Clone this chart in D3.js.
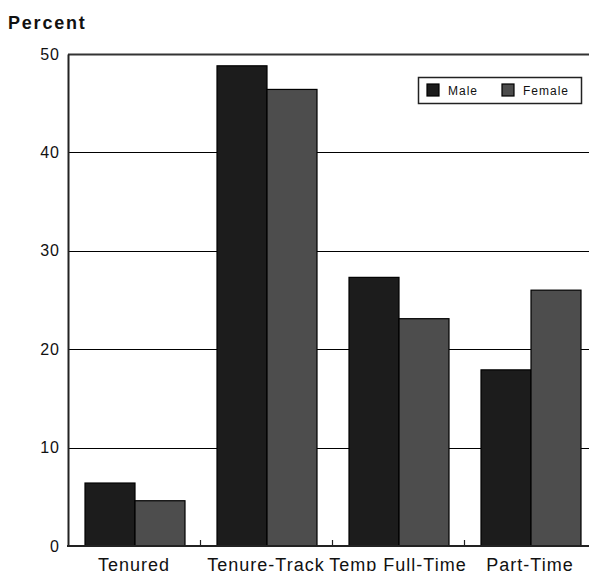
<!DOCTYPE html>
<html><head><meta charset="utf-8">
<script src="https://cdn.jsdelivr.net/npm/d3@7"></script>
<style>body{margin:0;background:#fff;overflow:hidden;} svg{display:block;}</style>
</head><body>
<script>
const categories = ["Tenured", "Tenure-Track", "Temp Full-Time", "Part-Time"];
const seriesNames = ["Male", "Female"];
const maleValues = [6.4, 48.8, 27.3, 17.9];
const femaleValues = [4.6, 46.4, 23.1, 26.0];
const yTicks = [0, 10, 20, 30, 40, 50];
const colors = ["#1c1c1c", "#4d4d4d"];

const W = 589, H = 571;
const svg = d3.select("body").append("svg").attr("width", W).attr("height", H);
const font = "'Liberation Sans', Arial, sans-serif";

const x = d3.scaleBand().domain(categories).range([68, 596]).paddingInner(0).paddingOuter(0);
const xs = d3.scaleBand().domain(seriesNames).range([17, 117]).paddingInner(0).paddingOuter(0);
const y = d3.scaleLinear().domain([0, 50]).range([546, 54]);

// gridlines
svg.append("g").selectAll("line").data(yTicks.filter(d => d > 0)).join("line")
  .attr("x1", 68).attr("x2", W).attr("y1", d => Math.round(y(d)) + 0.5).attr("y2", d => Math.round(y(d)) + 0.5)
  .attr("stroke", d => d === 50 ? "#333" : "#000").attr("stroke-width", d => d === 50 ? 2 : 1.2);

// bars
const data = categories.map((c, i) => ({c, vals: [maleValues[i], femaleValues[i]]}));
const g = svg.append("g");
data.forEach(d => {
  d.vals.forEach((v, j) => {
    g.append("rect")
      .attr("x", x(d.c) + xs(seriesNames[j]))
      .attr("y", y(v))
      .attr("width", xs.bandwidth())
      .attr("height", y(0) - y(v))
      .attr("fill", colors[j]).attr("stroke", "#000").attr("stroke-width", 1.2);
  });
});

// axes
const yAxis = d3.axisLeft(y).tickValues(yTicks).tickSize(0).tickPadding(8);
const ya = svg.append("g").attr("transform", "translate(68,0)").call(yAxis);
ya.select(".domain").attr("stroke", "#222").attr("stroke-width", 2);
ya.selectAll("text").attr("font-family", font).attr("font-size", 16).attr("letter-spacing", 1).attr("fill", "#111");

svg.append("line").attr("x1", 67).attr("x2", W).attr("y1", 546).attr("y2", 546).attr("stroke", "#222").attr("stroke-width", 2);
// band boundary ticks
svg.append("g").selectAll("line").data(categories.slice(1)).join("line")
  .attr("x1", d => Math.round(x(d)) + 0.5).attr("x2", d => Math.round(x(d)) + 0.5)
  .attr("y1", 540).attr("y2", 546).attr("stroke", "#222").attr("stroke-width", 1.2);

const xAxis = d3.axisBottom(x).tickSize(0).tickPadding(12);
const xa = svg.append("g").attr("transform", "translate(0,546)").call(xAxis);
xa.select(".domain").remove();
xa.selectAll("text").attr("font-family", font).attr("font-size", 18).attr("letter-spacing", 1).attr("fill", "#111");

// title
svg.append("text").attr("x", 8).attr("y", 29).text("Percent")
  .attr("font-family", font).attr("font-size", 18).attr("letter-spacing", 1.8).attr("font-weight", "bold").attr("fill", "#111");

// legend
const lg = svg.append("g");
lg.append("rect").attr("x", 418.5).attr("y", 77.5).attr("width", 163).attr("height", 26)
  .attr("fill", "#fff").attr("stroke", "#222").attr("stroke-width", 1.5);
const lx = [427, 502];
seriesNames.forEach((s, j) => {
  lg.append("rect").attr("x", lx[j]).attr("y", 84).attr("width", 12).attr("height", 12)
    .attr("fill", colors[j]).attr("stroke", "#000").attr("stroke-width", 1.2);
  lg.append("text").attr("x", lx[j] + 21).attr("y", 95).text(s)
    .attr("font-family", font).attr("font-size", 12).attr("letter-spacing", 1).attr("fill", "#111");
});
</script>
</body></html>
